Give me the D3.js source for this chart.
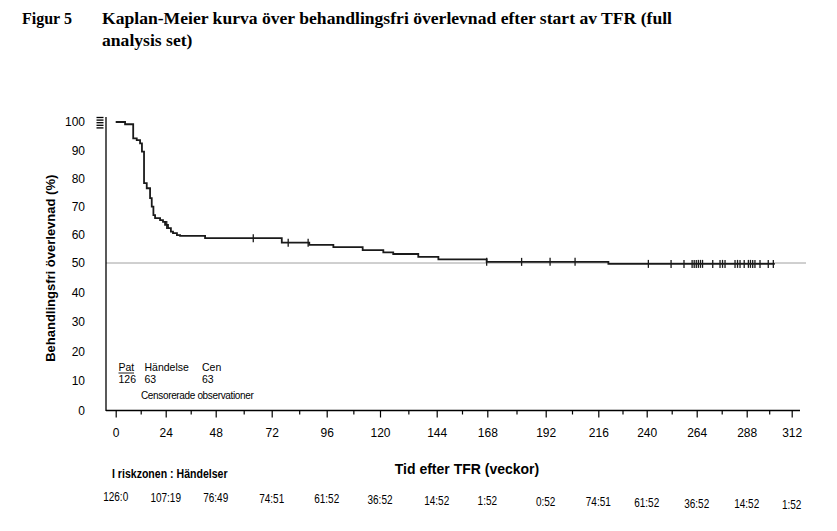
<!DOCTYPE html>
<html>
<head>
<meta charset="utf-8">
<script src="https://cdn.jsdelivr.net/npm/d3@7"></script>
<style>
  html, body { margin: 0; padding: 0; background: #fff; }
  svg { display: block; }
  .serif { font-family: "Liberation Serif", "Times New Roman", serif; font-weight: bold; }
  .sans { font-family: "Liberation Sans", Arial, sans-serif; }
</style>
</head>
<body>
<svg id="chart" width="837" height="531"></svg>
<script>
// ---- data ----
const xTicks = [0, 24, 48, 72, 96, 120, 144, 168, 192, 216, 240, 264, 288, 312];
const xMinorTicks = [12, 36, 60, 84, 108, 132, 156, 180, 204, 228, 252, 276, 300];
const yTicks = [0, 10, 20, 30, 40, 50, 60, 70, 80, 90, 100];
const riskLabels = ["126:0", "107:19", "76:49", "74:51", "61:52", "36:52", "14:52", "1:52",
                    "0:52", "74:51", "61:52", "36:52", "14:52", "1:52"];
const eventTimes = [0, 4.5, 8.4, 10.1, 11.7, 12.6, 13.6, 14.9, 16.5, 17.3, 18.1, 18.9, 21.3, 22.7,
                    23.7, 25.1, 26.5, 27.5, 29.4, 30.9, 42.9, 76.4, 88.4, 99.0, 112.2, 121.4, 125.6,
                    136.2, 144.8, 167.7, 221.0];
const survival = [100, 99.2, 94.2, 93.6, 92.4, 89.5, 78.3, 76.5, 73.0, 70.0, 67.0, 65.9, 65.2, 64.6,
                  63.5, 62.4, 61.1, 60.6, 59.9, 59.6, 58.8, 57.2, 56.4, 55.6, 54.6, 53.8, 53.2,
                  52.2, 51.3, 50.4, 49.7];
const lastTime = 303;
const censorTimes = [24.5, 64.1, 79.2, 87.9, 167.7, 182.1, 194.0, 205.4, 240.8, 251.7, 257.9,
                     261.8, 262.8, 263.8, 264.8, 265.8, 266.8, 271.7, 275.2, 276.4, 277.6,
                     282.4, 283.6, 284.8, 286.8, 288.9, 290.0, 291.2, 292.4, 295.1, 299.5, 302.2];
const legendHead = ["Pat", "Händelse", "Cen"];
const legendVals = ["126", "63", "63"];
const refLevel = 50;

// ---- layout ----
const svg = d3.select("#chart");
const axisLeftX = 106, axisRightX = 800, axisBottomY = 410.5, axisTopY = 117;
// the printed axis is slightly uneven; the scale follows the printed tick positions
const xTickPx = [115.7, 165.7, 215.7, 271.7, 326.7, 380, 436.7, 487.3, 545.7, 598.3, 646.7, 696.7, 746.7, 791.7];
const x = d3.scaleLinear().domain(xTicks).range(xTickPx);
const y = d3.scaleLinear().domain([0, 50, 100]).range([axisBottomY, 263, 122]);

// title
svg.append("text").attr("class", "serif").attr("x", 22).attr("y", 24)
  .style("font-size", "16px").text("Figur 5");
svg.append("text").attr("class", "serif").attr("x", 102).attr("y", 24)
  .style("font-size", "17.6px")
  .text("Kaplan-Meier kurva över behandlingsfri överlevnad efter start av TFR (full");
svg.append("text").attr("class", "serif").attr("x", 102).attr("y", 46)
  .style("font-size", "17.6px").text("analysis set)");

// reference line at 50%
svg.append("line")
  .attr("x1", axisLeftX).attr("x2", 806)
  .attr("y1", y(refLevel)).attr("y2", y(refLevel))
  .attr("stroke", "#a0a0a0").attr("stroke-width", 1);

// axes lines
svg.append("line").attr("x1", axisLeftX).attr("x2", axisLeftX)
  .attr("y1", axisTopY).attr("y2", axisBottomY + 0.5)
  .attr("stroke", "#000").attr("stroke-width", 1.3);
svg.append("line").attr("x1", axisLeftX).attr("x2", axisRightX)
  .attr("y1", axisBottomY).attr("y2", axisBottomY)
  .attr("stroke", "#000").attr("stroke-width", 1.3);

// x axis ticks
const gx = svg.append("g").attr("transform", `translate(0,${axisBottomY})`)
  .call(d3.axisBottom(x).tickValues(xTicks).tickSize(7).tickSizeOuter(0).tickPadding(11)
    .tickFormat(d3.format("d")));
gx.select(".domain").remove();
gx.selectAll("line").attr("stroke", "#000").attr("stroke-width", 1.2);
gx.selectAll("text").attr("class", "sans").style("font-size", "12px").attr("fill", "#000");
const gxm = svg.append("g").attr("transform", `translate(0,${axisBottomY})`)
  .call(d3.axisBottom(x).tickValues(xMinorTicks).tickSize(4).tickFormat(""));
gxm.select(".domain").remove();
gxm.selectAll("line").attr("stroke", "#000").attr("stroke-width", 1.2);

// y axis labels (no tick marks)
svg.append("g").selectAll("text").data(yTicks).join("text")
  .attr("class", "sans")
  .attr("x", 85).attr("y", d => y(d)).attr("dy", "0.36em")
  .attr("text-anchor", "end").style("font-size", "12px")
  .text(d => d);

// small stacked marks beside 100
svg.append("g").selectAll("line").data([0, 1, 2, 3, 4]).join("line")
  .attr("x1", 96.5).attr("x2", 103.5)
  .attr("y1", d => 117.5 + d * 2.6).attr("y2", d => 117.5 + d * 2.6)
  .attr("stroke", "#000").attr("stroke-width", 1.3);

// axis titles
svg.append("text").attr("class", "sans")
  .attr("transform", `translate(55,${(y(0) + y(100)) / 2 + 2}) rotate(-90)`)
  .attr("text-anchor", "middle").style("font-size", "13px").style("font-weight", "bold")
  .text("Behandlingsfri överlevnad (%)");
svg.append("text").attr("class", "sans")
  .attr("x", 467).attr("y", 474).attr("text-anchor", "middle")
  .style("font-size", "14px").style("font-weight", "bold")
  .text("Tid efter TFR (veckor)");

// KM curve
const pts = eventTimes.map((t, i) => [t, survival[i]]);
pts.push([lastTime, survival[survival.length - 1]]);
const line = d3.line().x(d => x(d[0])).y(d => y(d[1])).curve(d3.curveStepAfter);
svg.append("path").attr("d", line(pts))
  .attr("fill", "none").attr("stroke", "#1a1a1a").attr("stroke-width", 1.8);

// censor marks
const survAt = t => survival[Math.max(0, d3.bisectRight(eventTimes, t) - 1)];
svg.append("g").selectAll("line").data(censorTimes).join("line")
  .attr("x1", d => x(d)).attr("x2", d => x(d))
  .attr("y1", d => y(survAt(d)) - 4).attr("y2", d => y(survAt(d)) + 4)
  .attr("stroke", "#1a1a1a").attr("stroke-width", 1.3);

// in-plot legend
const legX = [118.5, 144.5, 202];
svg.append("g").selectAll("text").data(legendHead).join("text")
  .attr("class", "sans").attr("x", (d, i) => legX[i]).attr("y", 371)
  .style("font-size", "10.5px").text(d => d);
svg.append("line").attr("x1", 118.5).attr("x2", 134).attr("y1", 373).attr("y2", 373)
  .attr("stroke", "#000").attr("stroke-width", 0.9);
svg.append("g").selectAll("text").data(legendVals).join("text")
  .attr("class", "sans").attr("x", (d, i) => legX[i]).attr("y", 383)
  .style("font-size", "10.5px").text(d => d);
svg.append("text").attr("class", "sans").attr("x", 141).attr("y", 398.5)
  .style("font-size", "10px").style("letter-spacing", "-0.35px")
  .text("Censorerade observationer");

// risk table (condensed lettering)
svg.append("text").attr("class", "sans")
  .attr("transform", "translate(112,478) scale(0.88,1)")
  .style("font-size", "12px").style("font-weight", "bold")
  .text("I riskzonen : Händelser");
svg.append("g").selectAll("text").data(riskLabels).join("text")
  .attr("class", "sans")
  .attr("transform", (d, i) => `translate(${x(xTicks[i])},${501 + i * 0.6}) scale(0.8,1)`)
  .attr("text-anchor", "middle").style("font-size", "12.5px")
  .text(d => d);
</script>
</body>
</html>
